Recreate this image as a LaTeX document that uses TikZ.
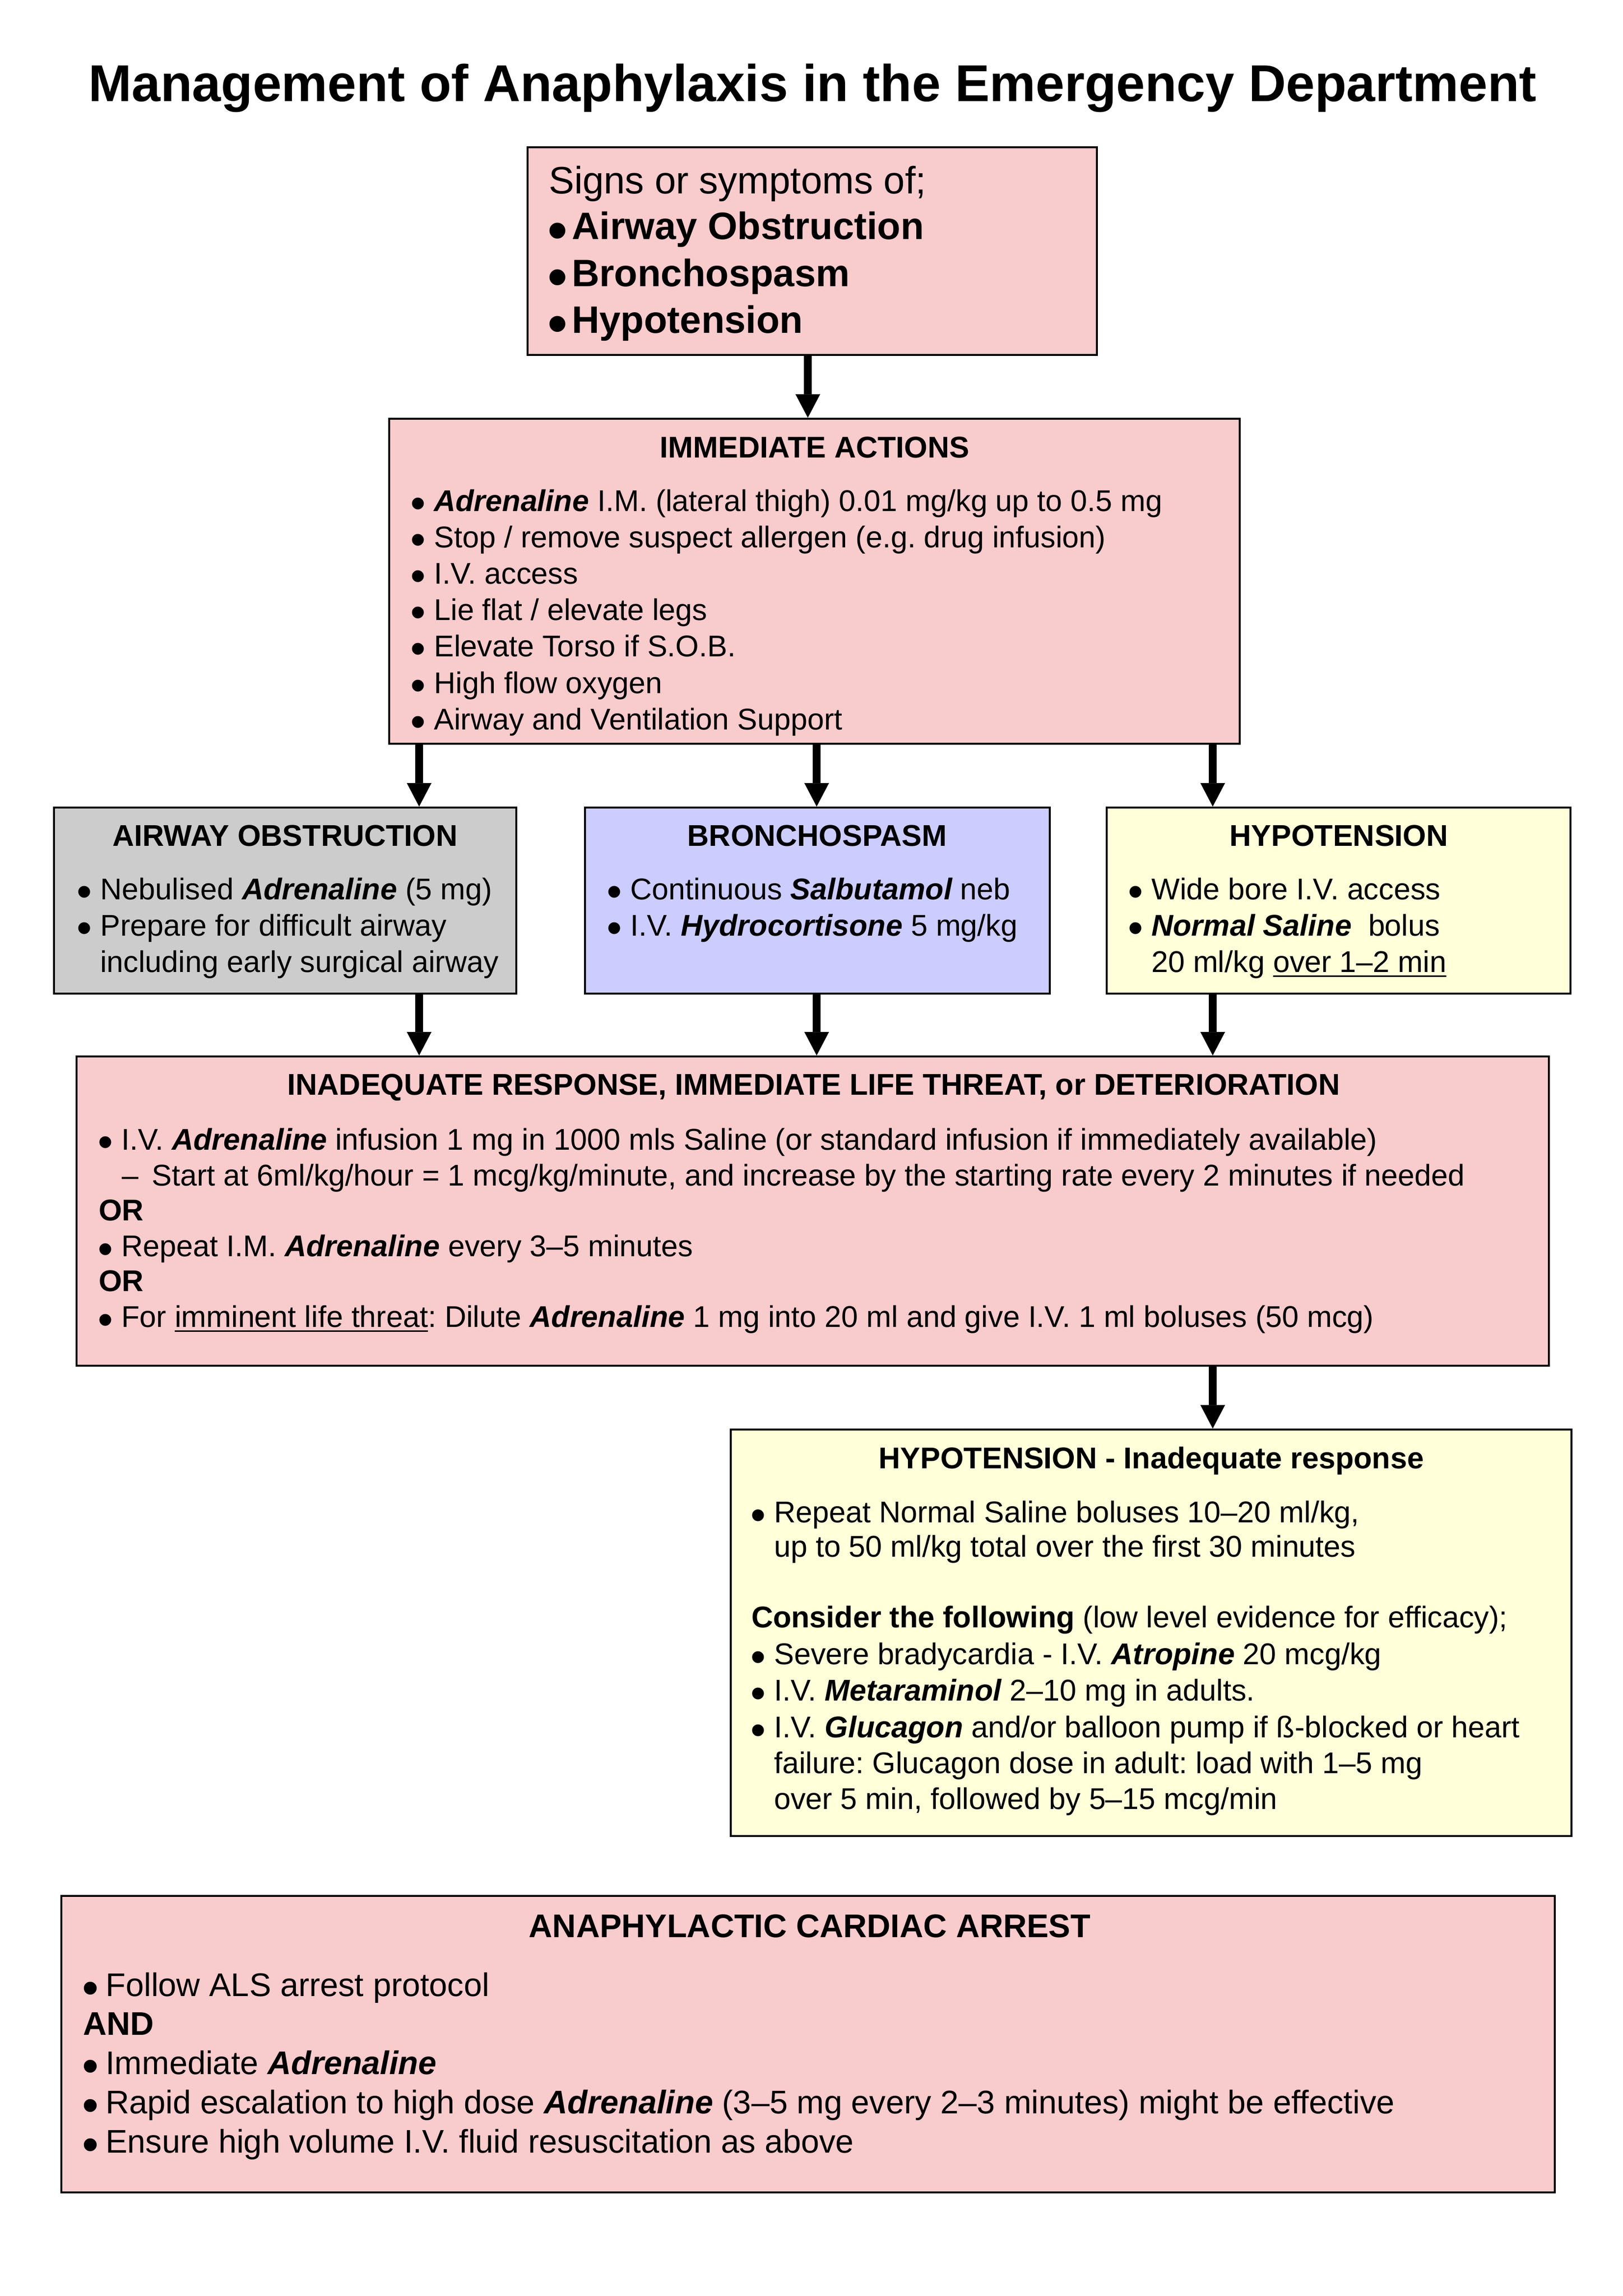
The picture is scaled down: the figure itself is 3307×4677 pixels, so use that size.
\documentclass[tikz,border=0pt]{standalone}
\usepackage{fontspec}
\setmainfont{Liberation Sans}
\usepackage{graphicx}
\usetikzlibrary{arrows.meta,fit}
\definecolor{pinkbox}{HTML}{F8CBCC}
\definecolor{graybox}{HTML}{CCCCCC}
\definecolor{bluebox}{HTML}{CCCCFF}
\definecolor{yellowbox}{HTML}{FFFFDA}
\newcommand{\fsz}[1]{\fontsize{#1}{#1}\selectfont}
\newcommand{\bul}{\makebox[7.8pt][l]{\hspace{-0.068em}\raisebox{-0.245em}{\scalebox{1.45}{•}}}}
\newcommand{\drug}[1]{{\bfseries\itshape #1}}
\frenchspacing
\begin{document}
\begin{tikzpicture}[x=0.18pt,y=-0.18pt,
  box/.style={draw=black, line width=0.75pt, inner sep=0pt},
  txt/.style={anchor=base west, inner sep=0pt, font={\fsz{11}}},
  ttl/.style={anchor=base, inner sep=0pt, font={\fsz{11}\bfseries}},
  arr/.style={line width=3pt, -{Triangle[width=9pt,length=8.6pt,line width=0.1pt]}}]
\useasboundingbox (0,0) rectangle (3307,4677);

\node[anchor=base, inner sep=0pt, font={\fsz{19}\bfseries}] (title) at (1656,207) {Management of Anaphylaxis in the Emergency Department};

% boxes
\node[box, fill=pinkbox, fit={(1075,300) (2235,723)}] (b1) {};
\node[box, fill=pinkbox, fit={(793,853) (2526,1515)}] (b2) {};
\node[box, fill=graybox, fit={(110,1645) (1052,2024)}] (b3a) {};
\node[box, fill=bluebox, fit={(1192,1645) (2139,2024)}] (b3b) {};
\node[box, fill=yellowbox, fit={(2255,1645) (3200,2024)}] (b3c) {};
\node[box, fill=pinkbox, fit={(156,2152) (3156,2782)}] (b4) {};
\node[box, fill=yellowbox, fit={(1489,2912) (3202,3740)}] (b5) {};
\node[box, fill=pinkbox, fit={(125,3862) (3168,4466)}] (b6) {};

% arrows
\coordinate (xa) at (1646,0);
\coordinate (xl) at (854,0);
\coordinate (xm) at (1664,0);
\coordinate (xr) at (2471,0);
\draw[arr] (b1.south -| xa) -- (b2.north -| xa);
\draw[arr] (b2.south -| xl) -- (b3a.north -| xl);
\draw[arr] (b2.south -| xm) -- (b3b.north -| xm);
\draw[arr] (b2.south -| xr) -- (b3c.north -| xr);
\draw[arr] (b3a.south -| xl) -- (b4.north -| xl);
\draw[arr] (b3b.south -| xm) -- (b4.north -| xm);
\draw[arr] (b3c.south -| xr) -- (b4.north -| xr);
\draw[arr] (b4.south -| xr) -- (b5.north -| xr);

% box 1
\node[txt, font={\fsz{14}}] (t1a) at (1117,395) {Signs or symptoms of;};
\node[txt, font={\fsz{14}\bfseries}] (t1b) at (1121,488) {\bul Airway Obstruction};
\node[txt, font={\fsz{14}\bfseries}] (t1c) at (1121,583) {\bul Bronchospasm};
\node[txt, font={\fsz{14}\bfseries}] (t1d) at (1121,678) {\bul Hypotension};

% box 2
\node[ttl] (t2) at (1660,932) {IMMEDIATE ACTIONS};
\node[txt] (t2a) at (840,1041) {\bul \drug{Adrenaline} I.M. (lateral thigh) 0.01 mg/kg up to 0.5 mg};
\node[txt] (t2b) at (840,1115) {\bul Stop / remove suspect allergen (e.g. drug infusion)};
\node[txt] (t2c) at (840,1189) {\bul I.V. access};
\node[txt] (t2d) at (840,1263) {\bul Lie flat / elevate legs};
\node[txt] (t2e) at (840,1337) {\bul Elevate Torso if S.O.B.};
\node[txt] (t2f) at (840,1412) {\bul High flow oxygen};
\node[txt] (t2g) at (840,1486) {\bul Airway and Ventilation Support};

% box 3a
\node[ttl] (t3a) at (581,1723) {AIRWAY OBSTRUCTION};
\node[txt] (t3a1) at (160,1832) {\bul Nebulised \drug{Adrenaline} (5 mg)};
\node[txt] (t3a2) at (160,1906) {\bul Prepare for difficult airway};
\node[txt] (t3a3) at (203,1980) {including early surgical airway};

% box 3b
\node[ttl] (t3b) at (1665,1723) {BRONCHOSPASM};
\node[txt] (t3b1) at (1240,1832) {\bul Continuous \drug{Salbutamol} neb};
\node[txt] (t3b2) at (1240,1906) {\bul I.V. \drug{Hydrocortisone} 5 mg/kg};

% box 3c
\node[ttl] (t3c) at (2728,1723) {HYPOTENSION};
\node[txt] (t3c1) at (2302,1832) {\bul Wide bore I.V. access};
\node[txt] (t3c2) at (2302,1906) {\bul \drug{Normal Saline}\ \ bolus};
\node[txt] (t3c3) at (2345,1980) {20 ml/kg \underline{over 1–2 min}};

% box 4
\node[ttl] (t4) at (1658,2230) {INADEQUATE RESPONSE, IMMEDIATE LIFE THREAT, or DETERIORATION};
\node[txt] (t4a) at (203,2342) {\bul I.V. \drug{Adrenaline} infusion 1 mg in 1000 mls Saline (or standard infusion if immediately available)};
\node[txt] (t4b) at (247,2415) {–\hspace{5pt}Start at 6ml/kg/hour = 1 mcg/kg/minute, and increase by the starting rate every 2 minutes if needed};
\node[txt, font={\fsz{11}\bfseries}] (t4c) at (200,2486) {OR};
\node[txt] (t4d) at (203,2559) {\bul Repeat I.M. \drug{Adrenaline} every 3–5 minutes};
\node[txt, font={\fsz{11}\bfseries}] (t4e) at (200,2630) {OR};
\node[txt] (t4f) at (203,2703) {\bul For \underline{imminent life threat}: Dilute \drug{Adrenaline} 1 mg into 20 ml and give I.V. 1 ml boluses (50 mcg)};

% box 5
\node[ttl] (t5) at (2346,2991) {HYPOTENSION - Inadequate response};
\node[txt] (t5a) at (1533,3101) {\bul Repeat Normal Saline boluses 10–20 ml/kg,};
\node[txt] (t5b) at (1576,3171) {up to 50 ml/kg total over the first 30 minutes};
\node[txt] (t5c) at (1530,3315) {\textbf{Consider the following} (low level evidence for efficacy);};
\node[txt] (t5d) at (1533,3390) {\bul Severe bradycardia - I.V. \drug{Atropine} 20 mcg/kg};
\node[txt] (t5e) at (1533,3464) {\bul I.V. \drug{Metaraminol} 2–10 mg in adults.};
\node[txt] (t5f) at (1533,3539) {\bul I.V. \drug{Glucagon} and/or balloon pump if ß-blocked or heart};
\node[txt] (t5g) at (1576,3612) {failure: Glucagon dose in adult: load with 1–5 mg};
\node[txt] (t5h) at (1576,3685) {over 5 min, followed by 5–15 mcg/min};

% box 6
\node[ttl, font={\fsz{12}\bfseries}] (t6) at (1650,3946) {ANAPHYLACTIC CARDIAC ARREST};
\node[txt, font={\fsz{12}}] (t6a) at (171,4066) {\bul Follow ALS arrest protocol};
\node[txt, font={\fsz{12}\bfseries}] (t6b) at (168,4145) {AND};
\node[txt, font={\fsz{12}}] (t6c) at (171,4225) {\bul Immediate \drug{Adrenaline}};
\node[txt, font={\fsz{12}}] (t6d) at (171,4305) {\bul Rapid escalation to high dose \drug{Adrenaline} (3–5 mg every 2–3 minutes) might be effective};
\node[txt, font={\fsz{12}}] (t6e) at (171,4385) {\bul Ensure high volume I.V. fluid resuscitation as above};
\end{tikzpicture}
\end{document}
